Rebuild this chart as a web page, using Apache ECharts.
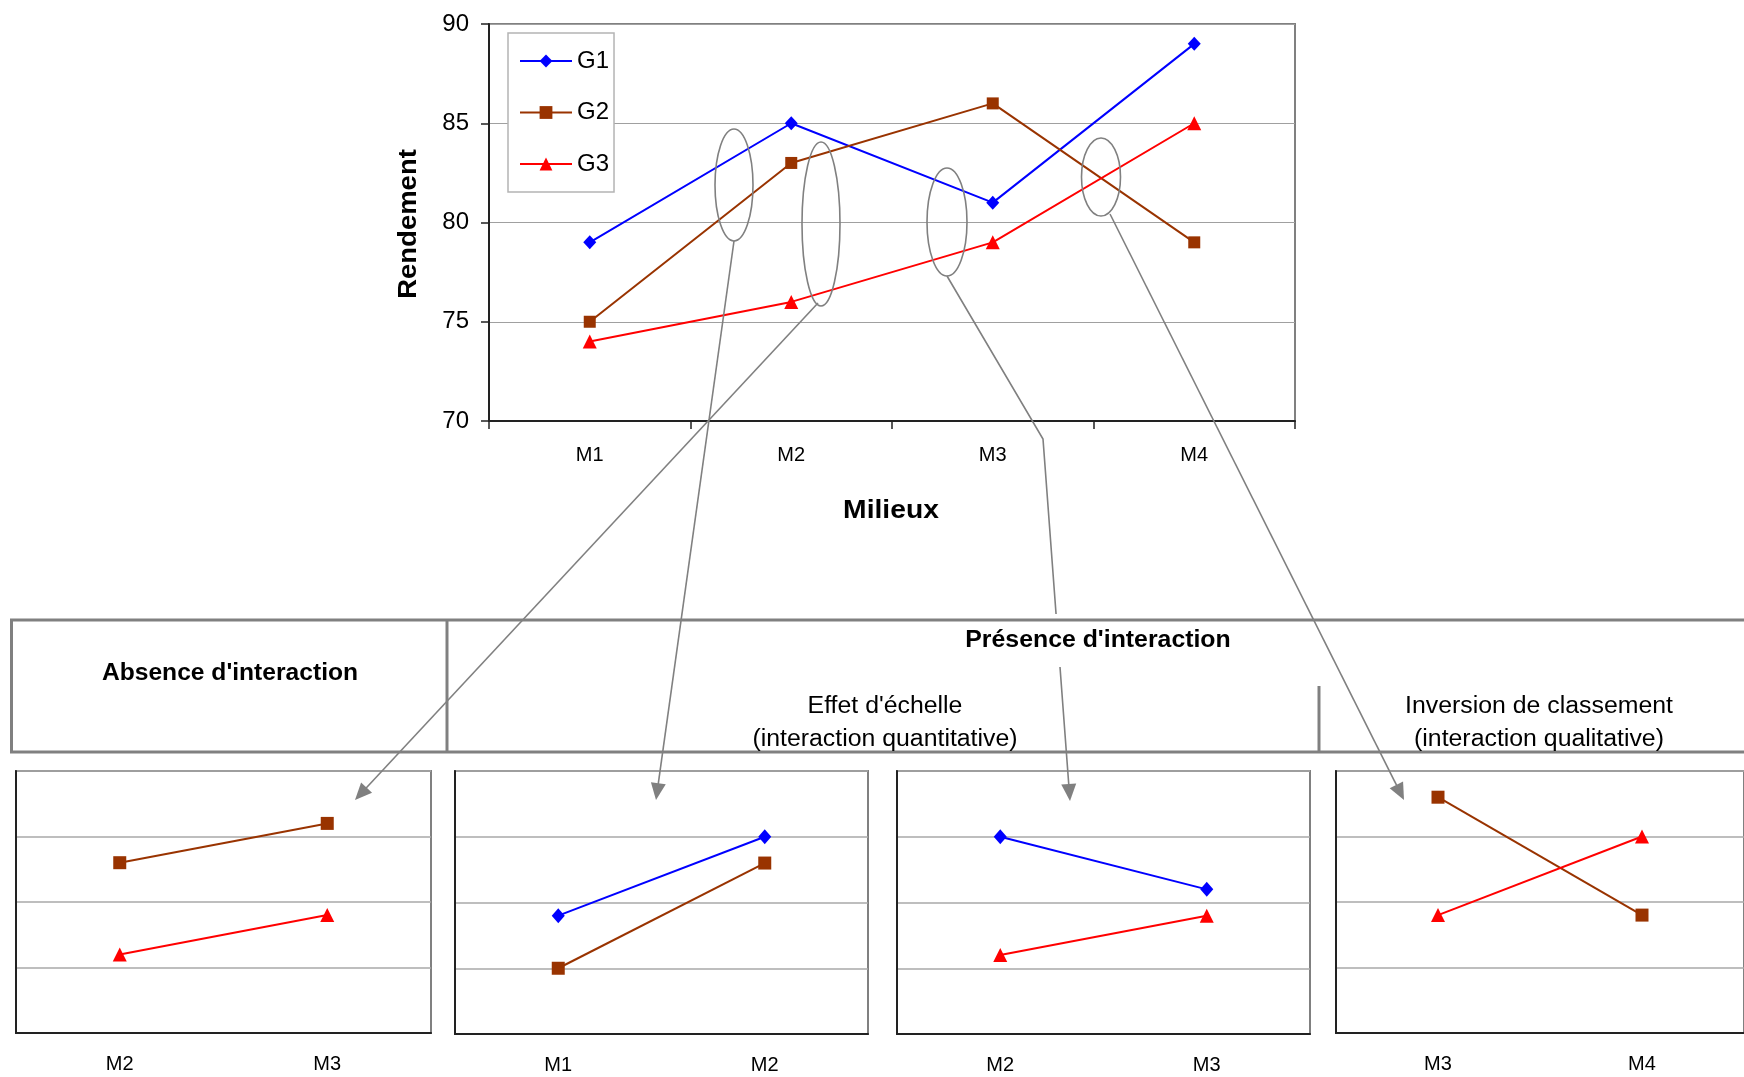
<!DOCTYPE html>
<html>
<head>
<meta charset="utf-8">
<title>Rendement par milieu</title>
<script src="https://cdn.jsdelivr.net/npm/echarts@6/dist/echarts.min.js"></script>
<style>
  html, body { margin: 0; padding: 0; background: #ffffff; }
  #chart { width: 1744px; height: 1077px; }
</style>
</head>
<body>
<div id="chart"></div>
<script>
// ---- Data ---------------------------------------------------------------
const milieux = ['M1', 'M2', 'M3', 'M4'];
const g1 = [79, 85, 81, 89];
const g2 = [75, 83, 86, 79];
const g3 = [74, 76, 79, 85];
const rendementTicks = [70, 75, 80, 85, 90];

// Zoomed pairs of environments shown under the main chart
const absenceMilieux = ['M2', 'M3'];
const absenceG2 = [83, 86];
const absenceG3 = [76, 79];

const echelleAMilieux = ['M1', 'M2'];
const echelleAG1 = [79, 85];
const echelleAG2 = [75, 83];

const echelleBMilieux = ['M2', 'M3'];
const echelleBG1 = [85, 81];
const echelleBG3 = [76, 79];

const inversionMilieux = ['M3', 'M4'];
const inversionG2 = [88, 79];
const inversionG3 = [79, 85];

// ---- Styles -------------------------------------------------------------
const FONT = "'Liberation Sans', Arial, sans-serif";
const COLOR = { G1: '#0000FF', G2: '#993300', G3: '#FF0000' };
const SYMBOL = { G1: 'diamond', G2: 'rect', G3: 'triangle' };
const MAIN_SIZE = { G1: [13, 14], G2: [12, 12], G3: [14, 14] };
const MINI_SIZE = { G1: [13, 15], G2: [13, 13], G3: [14, 14] };
const GREY = '#808080';

const yMin = rendementTicks[0];
const yMax = rendementTicks[rendementTicks.length - 1];
const yStep = rendementTicks[1] - rendementTicks[0];

// ---- Layout -------------------------------------------------------------
const grids = [
  { left: 489, top: 24, width: 806, height: 397 },   // main chart
  { left: 16, top: 771, width: 415, height: 262 },   // absence d'interaction
  { left: 455, top: 771, width: 413, height: 263 },  // effet d'échelle (M1-M2)
  { left: 897, top: 771, width: 413, height: 263 },  // effet d'échelle (M2-M3)
  { left: 1336, top: 771, width: 418, height: 262 }  // inversion de classement
];

function gridOpt(g) {
  return Object.assign({ show: true, borderColor: GREY, borderWidth: 2, backgroundColor: 'transparent' }, g);
}

function mainSeries(name, values) {
  return {
    name: name, type: 'line', xAxisIndex: 0, yAxisIndex: 0, data: values,
    symbol: SYMBOL[name], symbolSize: MAIN_SIZE[name], showAllSymbol: true,
    lineStyle: { color: COLOR[name], width: 2 },
    itemStyle: { color: COLOR[name] },
    emphasis: { disabled: true }, z: 3
  };
}

function miniSeries(idx, name, values) {
  return {
    name: name, type: 'line', xAxisIndex: idx, yAxisIndex: idx, data: values,
    symbol: SYMBOL[name], symbolSize: MINI_SIZE[name], showAllSymbol: true,
    lineStyle: { color: COLOR[name], width: 2 },
    itemStyle: { color: COLOR[name] },
    emphasis: { disabled: true }, z: 3
  };
}

function miniX(idx, cats) {
  return {
    type: 'category', gridIndex: idx, data: cats, boundaryGap: true,
    axisLine: { show: true, lineStyle: { color: '#222', width: 2 } },
    axisTick: { show: false },
    axisLabel: { interval: 0, margin: 21, fontSize: 20, color: '#000', fontFamily: FONT },
    splitLine: { show: false }
  };
}

function miniY(idx) {
  return {
    type: 'value', gridIndex: idx, min: yMin, max: yMax, interval: yStep,
    axisLine: { show: true, lineStyle: { color: '#222', width: 2 } },
    axisTick: { show: false },
    axisLabel: { show: false },
    splitLine: { show: true, lineStyle: { color: '#a8a8a8', width: 1.5 } }
  };
}

// ---- Annotations: loops around crossings, arrows to the zoomed panels -----
const loops = [
  { cx: 734, cy: 185, rx: 19, ry: 56 },
  { cx: 821, cy: 224, rx: 19, ry: 82 },
  { cx: 947, cy: 222, rx: 20, ry: 54 },
  { cx: 1101, cy: 177, rx: 19.5, ry: 39 }
];

const arrowPaths = [
  [[818, 303], [355, 800]],
  [[734, 241], [656, 800]],
  [[947, 276], [1043, 439], [1070, 801]],
  [[1110, 214], [1404, 800]]
];

function arrowElements(pts) {
  const n = pts.length;
  const x1 = pts[n - 2][0], y1 = pts[n - 2][1];
  const x2 = pts[n - 1][0], y2 = pts[n - 1][1];
  const len = Math.hypot(x2 - x1, y2 - y1);
  const ux = (x2 - x1) / len, uy = (y2 - y1) / len;
  const headLen = 17, headHalf = 7.5;
  const bx = x2 - ux * headLen, by = y2 - uy * headLen;
  const linePts = pts.slice(0, n - 1).concat([[bx + ux * 2, by + uy * 2]]);
  return [
    { type: 'polyline', z: 50, silent: true, shape: { points: linePts },
      style: { stroke: GREY, lineWidth: 1.6, fill: null } },
    { type: 'polygon', z: 50, silent: true,
      shape: { points: [[x2, y2], [bx - uy * headHalf, by + ux * headHalf], [bx + uy * headHalf, by - ux * headHalf]] },
      style: { fill: GREY } }
  ];
}

function label(text, x, y, opts) {
  return {
    type: 'text', x: x, y: y, z: 80, silent: true,
    scaleX: (opts && opts.scaleX) || 1,
    rotation: (opts && opts.rotation) || 0,
    style: {
      text: text, fontFamily: FONT, fontSize: (opts && opts.size) || 23,
      fontWeight: (opts && opts.bold) ? 'bold' : 'normal',
      fill: '#000', align: 'center', verticalAlign: 'middle'
    }
  };
}

function rule(x1, y1, x2, y2) {
  return { type: 'line', z: 70, silent: true, shape: { x1: x1, y1: y1, x2: x2, y2: y2 },
    style: { stroke: GREY, lineWidth: 3 } };
}

const graphicElements = [];
loops.forEach(function (e) {
  graphicElements.push({ type: 'ellipse', z: 50, silent: true, shape: e,
    style: { fill: 'none', stroke: GREY, lineWidth: 1.6 } });
});
arrowPaths.forEach(function (p) { graphicElements.push.apply(graphicElements, arrowElements(p)); });

// header table
graphicElements.push({ type: 'rect', z: 60, silent: true, shape: { x: 960, y: 614, width: 280, height: 53 }, style: { fill: '#fff' } });
graphicElements.push(rule(10, 620, 1744, 620));
graphicElements.push(rule(10, 752, 1744, 752));
graphicElements.push(rule(11.5, 620, 11.5, 752));
graphicElements.push(rule(447, 620, 447, 752));
graphicElements.push(rule(1319, 686, 1319, 752));

graphicElements.push(label("Absence d'interaction", 230, 674, { bold: true, scaleX: 1.07 }));
graphicElements.push(label("Présence d'interaction", 1098, 641, { bold: true, scaleX: 1.08 }));
graphicElements.push(label("Effet d'échelle", 885, 707, { scaleX: 1.08 }));
graphicElements.push(label("(interaction quantitative)", 885, 740, { scaleX: 1.08 }));
graphicElements.push(label("Inversion de classement", 1539, 707, { scaleX: 1.08 }));
graphicElements.push(label("(interaction qualitative)", 1539, 740, { scaleX: 1.08 }));

// axis titles of the main chart
graphicElements.push(label('Milieux', 891, 511, { bold: true, size: 25, scaleX: 1.13 }));
graphicElements.push(label('Rendement', 409, 224, { bold: true, size: 25, scaleX: 1.1, rotation: Math.PI / 2 }));

// ---- Chart --------------------------------------------------------------
const chart = echarts.init(document.getElementById('chart'), null, { renderer: 'canvas' });

chart.setOption({
  animation: false,
  backgroundColor: '#ffffff',
  textStyle: { fontFamily: FONT },
  grid: grids.map(gridOpt),
  legend: {
    data: ['G1', 'G2', 'G3'],
    orient: 'vertical',
    left: 508, top: 33,
    padding: [16, 5, 16, 11],
    itemWidth: 52, itemHeight: 16, itemGap: 27.5,
    backgroundColor: '#ffffff',
    borderColor: '#b4b4b4', borderWidth: 1.5,
    selectedMode: false,
    textStyle: { fontSize: 24, color: '#000', fontFamily: FONT }
  },
  xAxis: [
    {
      type: 'category', gridIndex: 0, data: milieux, boundaryGap: true,
      axisLine: { show: true, lineStyle: { color: '#222', width: 2 } },
      axisTick: { show: true, length: 8, lineStyle: { color: '#222', width: 1.5 } },
      axisLabel: { interval: 0, margin: 24, fontSize: 20, color: '#000', fontFamily: FONT },
      splitLine: { show: false }
    },
    miniX(1, absenceMilieux),
    miniX(2, echelleAMilieux),
    miniX(3, echelleBMilieux),
    miniX(4, inversionMilieux)
  ],
  yAxis: [
    {
      type: 'value', gridIndex: 0, min: yMin, max: yMax, interval: yStep,
      axisLine: { show: true, lineStyle: { color: '#222', width: 2 } },
      axisTick: { show: true, length: 8, lineStyle: { color: '#222', width: 1.5 } },
      axisLabel: { margin: 20, fontSize: 24, color: '#000', fontFamily: FONT },
      splitLine: { show: true, lineStyle: { color: '#a0a0a0', width: 1.2 } }
    },
    miniY(1), miniY(2), miniY(3), miniY(4)
  ],
  series: [
    mainSeries('G1', g1),
    mainSeries('G2', g2),
    mainSeries('G3', g3),
    miniSeries(1, 'G2', absenceG2),
    miniSeries(1, 'G3', absenceG3),
    miniSeries(2, 'G1', echelleAG1),
    miniSeries(2, 'G2', echelleAG2),
    miniSeries(3, 'G1', echelleBG1),
    miniSeries(3, 'G3', echelleBG3),
    miniSeries(4, 'G2', inversionG2),
    miniSeries(4, 'G3', inversionG3)
  ],
  graphic: { elements: graphicElements }
});
</script>
</body>
</html>
